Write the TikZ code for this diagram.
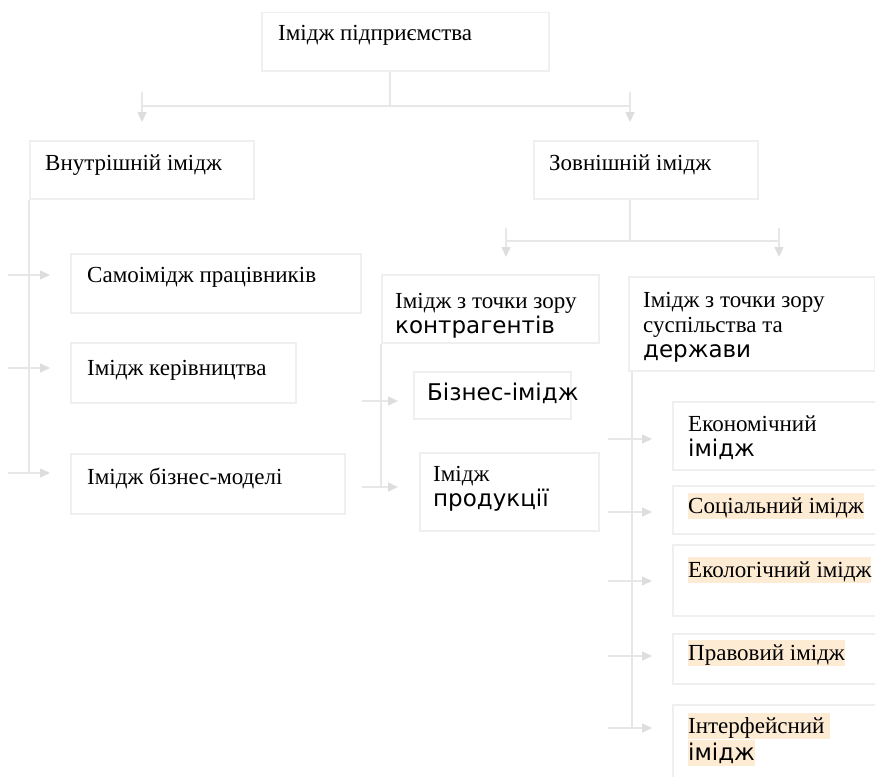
\documentclass[tikz,border=0pt]{standalone}
\usepackage{fontspec}
\setmainfont{Liberation Serif}
\newfontfamily\dvsans{DejaVu Sans}
\usepackage{tikz,pgffor}
\usetikzlibrary{positioning,arrows.meta}
\definecolor{boxline}{RGB}{239,239,239}
\definecolor{connline}{RGB}{231,231,231}
\definecolor{tipgray}{RGB}{221,221,221}
\definecolor{hlpeach}{RGB}{253,235,212}
\newcommand{\hlbg}[1]{{\setlength{\fboxsep}{0pt}\colorbox{hlpeach}{\rule[-6pt]{0pt}{26pt}#1}}}
\tikzset{imgbox/.style={draw=boxline, line width=1.5pt, rectangle, inner sep=0pt, anchor=north west},
  imgtext/.style={anchor=north west, inner sep=0pt, align=left, font=\fontsize{23}{25}\selectfont},
  conn/.style={draw=connline, line width=1.5pt},
  arr/.style={conn, -{Triangle[length=10pt,width=9pt,color=tipgray]}}}

\begin{document}
\begin{tikzpicture}[x=1pt,y=-1pt]
\useasboundingbox (0,0) rectangle (875,776);
% boxes
\node [imgbox, minimum width=287pt, minimum height=58pt] (top) at (261,12) {};
\node [imgbox, minimum width=224pt, minimum height=58pt] (inner) at (29,140) {};
\node [imgbox, minimum width=224pt, minimum height=58pt] (outer) at (533,140) {};
\node [imgbox, minimum width=290pt, minimum height=59pt] (self) at (70,253) {};
\node [imgbox, minimum width=225pt, minimum height=60pt] (mgmt) at (70,342) {};
\node [imgbox, minimum width=274pt, minimum height=60pt] (model) at (70,453) {};
\node [imgbox, minimum width=217pt, minimum height=68pt] (partner) at (381,274) {};
\node [imgbox, minimum width=246pt, minimum height=94pt] (society) at (628,276) {};
\node [imgbox, minimum width=157pt, minimum height=47pt] (biz) at (413,371) {};
\node [imgbox, minimum width=179pt, minimum height=78pt] (product) at (419,452) {};
\node [imgbox, minimum width=220pt, minimum height=68pt] (econ) at (672,401) {};
\node [imgbox, minimum width=220pt, minimum height=48pt] (social) at (672,485) {};
\node [imgbox, minimum width=220pt, minimum height=71pt] (eco) at (672,544) {};
\node [imgbox, minimum width=220pt, minimum height=50pt] (legal) at (672,633) {};
\node [imgbox, minimum width=220pt, minimum height=90pt] (iface) at (672,704) {};

% texts
\node [imgtext] (topT) at (278,25) {Імідж підприємства};
\node [imgtext] (innerT) at (45,155) {Внутрішній імідж};
\node [imgtext] (outerT) at (549,155) {Зовнішній імідж};
\node [imgtext] (selfT) at (87,267) {Самоімідж працівників};
\node [imgtext] (mgmtT) at (87,360) {Імідж керівництва};
\node [imgtext] (modelT) at (87,468) {Імідж бізнес-моделі};
\node [imgtext] (partnerT) at (395,293) {Імідж з точки зору\\{\dvsans контрагентів}};
\node [imgtext] (societyT) at (643,292) {Імідж з точки зору\\суспільства та\\{\dvsans держави}};
\node [imgtext, font=\dvsans\fontsize{23}{25}\selectfont] (bizT) at (427,383) {Бізнес-імідж};
\node [imgtext] (productT) at (433,466) {Імідж\\{\dvsans продукції}};
\node [imgtext] (econT) at (688,416) {Економічний\\{\dvsans імідж}};
\node [imgtext] (socialT) at (688,493) {\hlbg{Соціальний імідж}};
\node [imgtext] (ecoT) at (688,557) {\hlbg{Екологічний імідж}};
\node [imgtext] (legalT) at (688,640) {\hlbg{Правовий імідж}};
\node [imgtext] (ifaceT) at (688,713) {\hlbg{Інтерфейсний }\\\hlbg{\dvsans імідж}};

% level 1
\coordinate (topjoin) at (390,106);
\coordinate (ia) at (142,92);
\coordinate (oa) at (630,92);
\draw [conn] (topjoin |- top.south) -- (topjoin);
\draw [conn] (ia |- topjoin) -- (oa |- topjoin);
\draw [arr, shorten >=18pt] (ia) -- (ia |- inner.north);
\draw [arr, shorten >=18pt] (oa) -- (oa |- outer.north);

% inner branch
\foreach \y/\b in {275/self,368/mgmt,473/model}{
  \coordinate (in-\b) at (8,\y);
  \draw [arr] (in-\b) -- ([xshift=21pt]in-\b -| inner.west);
}
\draw [conn] (inner.south west) -- (inner.south west |- in-model);

% outer branch
\coordinate (outjoin) at (630,241);
\coordinate (pa) at (506,228);
\coordinate (sa) at (779,228);
\draw [conn] (outjoin |- outer.south) -- (outjoin);
\draw [conn] (pa |- outjoin) -- (sa |- outjoin);
\draw [arr, shorten >=17pt] (pa) -- (pa |- partner.north);
\draw [arr, shorten >=19pt] (sa) -- (sa |- society.north);

% partner branch
\foreach \y/\b in {401/biz,487/product}{
  \coordinate (pt-\b) at (362,\y);
  \draw [arr] (pt-\b) -- ([xshift=17pt]pt-\b -| partner.west);
}
\draw [conn] (partner.south west) -- (partner.south west |- pt-product);

% society branch
\foreach \y/\b in {439/econ,512/social,581/eco,656/legal,728/iface}{
  \coordinate (sc-\b) at (608,\y);
  \draw [arr] (sc-\b) -- ([xshift=24pt]sc-\b -| society.west);
}
\draw [conn] ([xshift=4pt]society.south west) -- ([xshift=4pt]society.south west |- sc-iface);
\end{tikzpicture}
\end{document}
